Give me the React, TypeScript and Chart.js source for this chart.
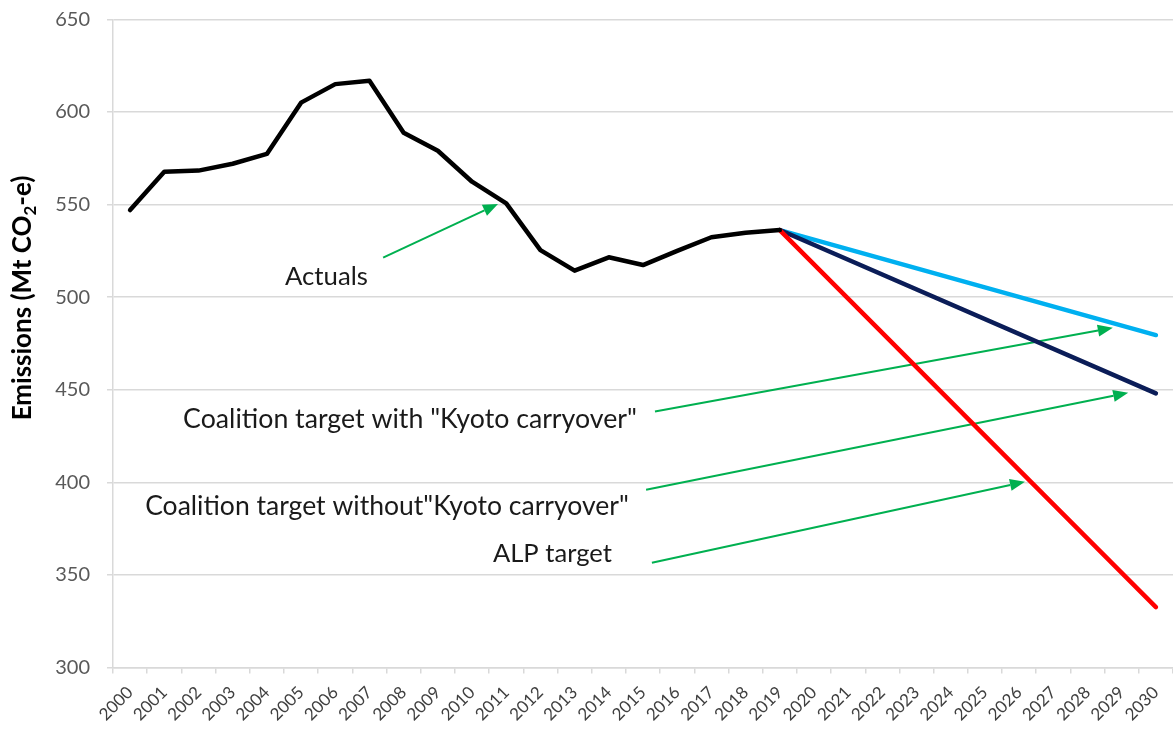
import React, { useEffect, useRef } from "react";
import { Chart, registerables } from "chart.js";

Chart.register(...registerables);

// ---------------- DATA ----------------
const years = [
  "2000", "2001", "2002", "2003", "2004", "2005", "2006", "2007", "2008", "2009",
  "2010", "2011", "2012", "2013", "2014", "2015", "2016", "2017", "2018", "2019",
  "2020", "2021", "2022", "2023", "2024", "2025", "2026", "2027", "2028", "2029", "2030",
];

// Actual emissions 2000–2019 (Mt CO2-e)
const actuals = [
  547, 567.7, 568.3, 572, 577.3, 605, 615, 616.8, 588.8, 579,
  562.3, 550.6, 525.4, 514.3, 521.5, 517.3, 525, 532.3, 534.8, 536.2,
];

// Target paths: known endpoints only (2019 start, 2030 end)
const withKyotoEnds: Record<string, number> = { "2019": 536.2, "2030": 479.5 };
const withoutKyotoEnds: Record<string, number> = { "2019": 536.2, "2030": 448 };
const alpEnds: Record<string, number> = { "2019": 536.2, "2030": 332.6 };

const yTicks = { min: 300, max: 650, step: 50 };

// Annotations (anchored in data units: x = category index, y = emissions value)
const annotationLabels = [
  "Actuals",
  'Coalition target with "Kyoto carryover"',
  'Coalition target without"Kyoto carryover"',
  "ALP target",
];

// ---------------- STYLE / LAYOUT ----------------
const FONT = 'Lato, "Open Sans", "Liberation Sans", sans-serif';
const W = 1173;
const H = 729;

const annotationLayout = [
  { textX: 4.53, textY: 506.6, textW: 83, from: [7.4, 521.3], to: [10.76, 550.3] },
  { textX: 1.55, textY: 429.4, textW: 454, from: [15.35, 438.2], to: [28.74, 483.4] },
  { textX: 0.44, textY: 382.5, textW: 484, from: [15.09, 396], to: [29.19, 448.3] },
  { textX: 10.61, textY: 357.1, textW: 119, from: [15.26, 356.6], to: [26.17, 400.3] },
];

const fromEnds = (ends: Record<string, number>) =>
  years.map((y) => (ends[y] !== undefined ? ends[y] : null));

function fitFont(ctx: CanvasRenderingContext2D, text: string, targetW: number, weight: string) {
  ctx.font = `${weight} 20px ${FONT}`;
  const w = ctx.measureText(text).width;
  return (20 * targetW) / w;
}

function drawArrow(ctx: CanvasRenderingContext2D, x1: number, y1: number, x2: number, y2: number) {
  const ang = Math.atan2(y2 - y1, x2 - x1);
  const headLen = 15;
  const headHalf = 6;
  const bx = x2 - headLen * Math.cos(ang);
  const by = y2 - headLen * Math.sin(ang);
  ctx.strokeStyle = "#00b050";
  ctx.fillStyle = "#00b050";
  ctx.lineWidth = 2;
  ctx.beginPath();
  ctx.moveTo(x1, y1);
  ctx.lineTo(bx, by);
  ctx.stroke();
  ctx.beginPath();
  ctx.moveTo(x2, y2);
  ctx.lineTo(bx + headHalf * Math.sin(ang), by - headHalf * Math.cos(ang));
  ctx.lineTo(bx - headHalf * Math.sin(ang), by + headHalf * Math.cos(ang));
  ctx.closePath();
  ctx.fill();
}

const annotationPlugin = {
  id: "annotations",
  beforeDatasetsDraw(chart: any) {
    const ctx: CanvasRenderingContext2D = chart.ctx;
    const xs = chart.scales.x;
    const ys = chart.scales.y;
    ctx.save();
    annotationLabels.forEach((label, i) => {
      const a = annotationLayout[i];
      drawArrow(
        ctx,
        xs.getPixelForValue(a.from[0]),
        ys.getPixelForValue(a.from[1]),
        xs.getPixelForValue(a.to[0]),
        ys.getPixelForValue(a.to[1])
      );
      const size = fitFont(ctx, label, a.textW, "normal");
      ctx.font = `normal ${size}px ${FONT}`;
      ctx.fillStyle = "#1a1a1a";
      ctx.textAlign = "left";
      ctx.textBaseline = "alphabetic";
      ctx.fillText(label, xs.getPixelForValue(a.textX), ys.getPixelForValue(a.textY));
    });
    ctx.restore();
  },
  afterDraw(chart: any) {
    // Y axis title with subscript
    const ctx: CanvasRenderingContext2D = chart.ctx;
    const parts = [
      { t: "Emissions (Mt CO", sub: false },
      { t: "2", sub: true },
      { t: "-e)", sub: false },
    ];
    const size = fitFont(ctx, "Emissions (Mt CO2-e)", 250, "bold");
    const subSize = size * 0.65;
    ctx.save();
    ctx.translate(23, 298);
    ctx.rotate(-Math.PI / 2);
    ctx.fillStyle = "#000000";
    ctx.textBaseline = "middle";
    ctx.textAlign = "left";
    let total = 0;
    const widths = parts.map((p) => {
      ctx.font = `bold ${p.sub ? subSize : size}px ${FONT}`;
      const w = ctx.measureText(p.t).width;
      total += w;
      return w;
    });
    let x = -total / 2;
    parts.forEach((p, i) => {
      ctx.font = `bold ${p.sub ? subSize : size}px ${FONT}`;
      ctx.fillText(p.t, x, p.sub ? size * 0.3 : 0);
      x += widths[i];
    });
    ctx.restore();
  },
};

export default function App() {
  const canvasRef = useRef<HTMLCanvasElement | null>(null);

  useEffect(() => {
    if (!canvasRef.current) return;
    const lineCommon = {
      pointRadius: 0,
      pointHoverRadius: 0,
      borderWidth: 4.5,
      tension: 0,
      fill: false,
      borderCapStyle: "round" as const,
      borderJoinStyle: "round" as const,
      spanGaps: true,
    };
    const chart = new Chart(canvasRef.current, {
      type: "line",
      data: {
        labels: years,
        datasets: [
          { ...lineCommon, label: "Actuals", data: actuals as any, borderColor: "#000000" },
          { ...lineCommon, label: "ALP target", data: fromEnds(alpEnds) as any, borderColor: "#ff0000" },
          {
            ...lineCommon,
            label: 'Coalition target without "Kyoto carryover"',
            data: fromEnds(withoutKyotoEnds) as any,
            borderColor: "#0b1d58",
          },
          {
            ...lineCommon,
            label: 'Coalition target with "Kyoto carryover"',
            data: fromEnds(withKyotoEnds) as any,
            borderColor: "#00b0f0",
          },
        ],
      },
      options: {
        responsive: false,
        animation: false,
        events: [],
        layout: { padding: { top: 19.3, left: 0, right: 0, bottom: 0 } },
        plugins: {
          legend: { display: false },
          tooltip: { enabled: false },
          title: { display: false },
        },
        scales: {
          x: {
            type: "category",
            offset: true,
            grid: {
              display: true,
              offset: true,
              drawOnChartArea: false,
              drawTicks: true,
              tickLength: 6,
              color: "#d9d9d9",
              lineWidth: 1.5,
            },
            border: { display: true, color: "#d9d9d9", width: 1.5 },
            ticks: {
              autoSkip: false,
              minRotation: 45,
              maxRotation: 45,
              padding: 9,
              color: "#404040",
              font: { family: FONT, size: 17 },
            },
            afterFit: (scale: any) => {
              scale.height = H - 667.5;
              scale.paddingLeft = 0;
              scale.paddingRight = 0;
            },
          },
          y: {
            type: "linear",
            min: yTicks.min,
            max: yTicks.max,
            grid: {
              color: "#d9d9d9",
              lineWidth: 1.5,
              drawTicks: true,
              tickLength: 6,
            },
            border: { display: true, color: "#d9d9d9", width: 1.5 },
            ticks: {
              stepSize: yTicks.step,
              padding: 17,
              color: "#595959",
              font: { family: FONT, size: 20 },
            },
            afterFit: (scale: any) => {
              scale.width = 113;
              scale.paddingTop = 0;
              scale.paddingBottom = 0;
            },
          },
        },
      },
      plugins: [annotationPlugin],
    });
    return () => chart.destroy();
  }, []);

  return (
    <div style={{ position: "absolute", left: 0, top: 0, width: W, height: H, background: "#ffffff" }}>
      <canvas ref={canvasRef} width={W} height={H} />
    </div>
  );
}
